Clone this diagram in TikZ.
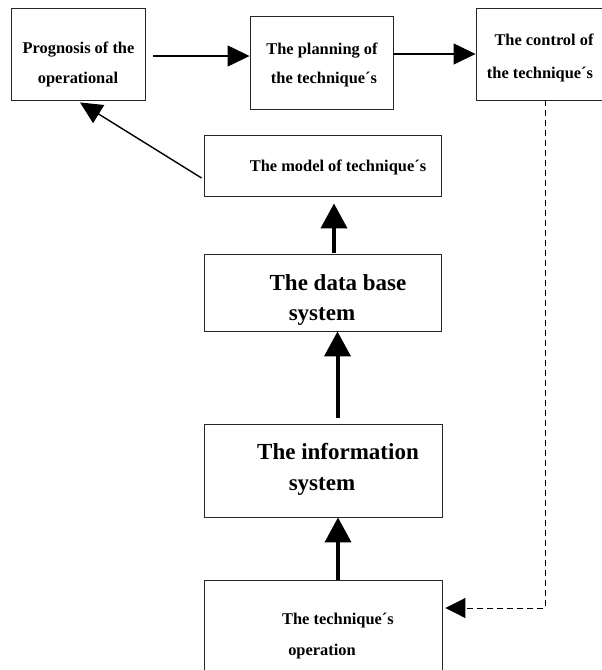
\documentclass[tikz,border=0pt]{standalone}
\usepackage{fontspec}
\setmainfont{Liberation Serif}
\usetikzlibrary{arrows.meta}
\begin{document}
\begin{tikzpicture}[x=1pt,y=-1pt,
  boxst/.style={draw=black!85,line width=0.9pt,fill=white,inner sep=0pt},
  smalltxt/.style={anchor=base,inner sep=0pt,font=\fontsize{16.4}{20}\selectfont\bfseries},
  bigtxt/.style={anchor=base,inner sep=0pt,font=\fontsize{23}{28}\selectfont\bfseries},
  thinarrow/.style={line width=1.4pt,-{Triangle[length=22pt,width=21pt]}},
  thickarrow/.style={line width=4pt,-{Triangle[length=25pt,width=26pt]}},
  dasharrow/.style={line width=1pt,dash pattern=on 6pt off 4pt,-{Triangle[length=20pt,width=20pt]}}]
\clip (0,0) rectangle (602,670);
\fill[white] (0,0) rectangle (602,670);
% boxes
\node[boxst,minimum width=134pt,minimum height=92pt] (prog) at (78,54) {};
\node[boxst,minimum width=143pt,minimum height=93pt] (plan) at (321.5,62.5) {};
\node[boxst,minimum width=164pt,minimum height=92pt] (ctrl) at (558,54) {};
\node[boxst,minimum width=237pt,minimum height=61pt] (model) at (322.5,165.5) {};
\node[boxst,minimum width=237pt,minimum height=77pt] (db) at (322.5,292.5) {};
\node[boxst,minimum width=238pt,minimum height=93pt] (info) at (323,470.5) {};
\node[boxst,minimum width=238pt,minimum height=120pt] (op) at (323,640) {};
% texts
\node[smalltxt] (p1) at (78.5,53.5) {Prognosis of the};
\node[smalltxt] (p2) at (78,83.3) {operational};
\node[smalltxt] (l1) at (322,54) {The planning of};
\node[smalltxt] (l2) at (324,83.5) {the technique´s};
\node[smalltxt] (c1) at (544,45) {The control of};
\node[smalltxt] (c2) at (540,78) {the technique´s};
\node[smalltxt] (m1) at (338,171.5) {The model of technique´s};
\node[bigtxt] (d1) at (338,290) {The data base};
\node[bigtxt] (d2) at (322,320) {system};
\node[bigtxt] (i1) at (338,459) {The information};
\node[bigtxt] (i2) at (322,490) {system};
\node[smalltxt] (o1) at (338,624) {The technique´s};
\node[smalltxt] (o2) at (322,655) {operation};
% connector ends
\coordinate (progR) at ([shift={(8,2)}]prog.east);
\coordinate (planL) at (progR -| plan.west);
\coordinate (ctrlL) at (ctrl.west);
\coordinate (planR) at (plan.east |- ctrlL);
\coordinate (modelL) at ([shift={(-2,12.5)}]model.west);
\coordinate (progB) at ([shift={(2,2)}]prog.south);
\coordinate (dbT) at ([shift={(11.5,-1)}]db.north);
\coordinate (modelB) at ([shift={(11.5,7)}]model.south);
\coordinate (dbB) at ([xshift=15pt]db.south);
\coordinate (infoT) at ([shift={(14.5,-6)}]info.north);
\coordinate (infoB) at ([xshift=15pt]info.south);
\coordinate (opT) at ([xshift=15pt]op.north);
\coordinate (ctrlB) at ([xshift=-13pt]ctrl.south);
\coordinate (opR) at ([shift={(3,-32)}]op.east);
% connectors
\draw[thinarrow] (progR) -- (planL);
\draw[thinarrow] (planR) -- (ctrlL);
\draw[thinarrow] (modelL) -- (progB);
\draw[thickarrow] (dbT) -- (modelB);
\draw[thickarrow] (infoT) -- (dbB);
\draw[thickarrow] (opT) -- (infoB);
\draw[dasharrow] (ctrlB) |- (opR);
\end{tikzpicture}
\end{document}
